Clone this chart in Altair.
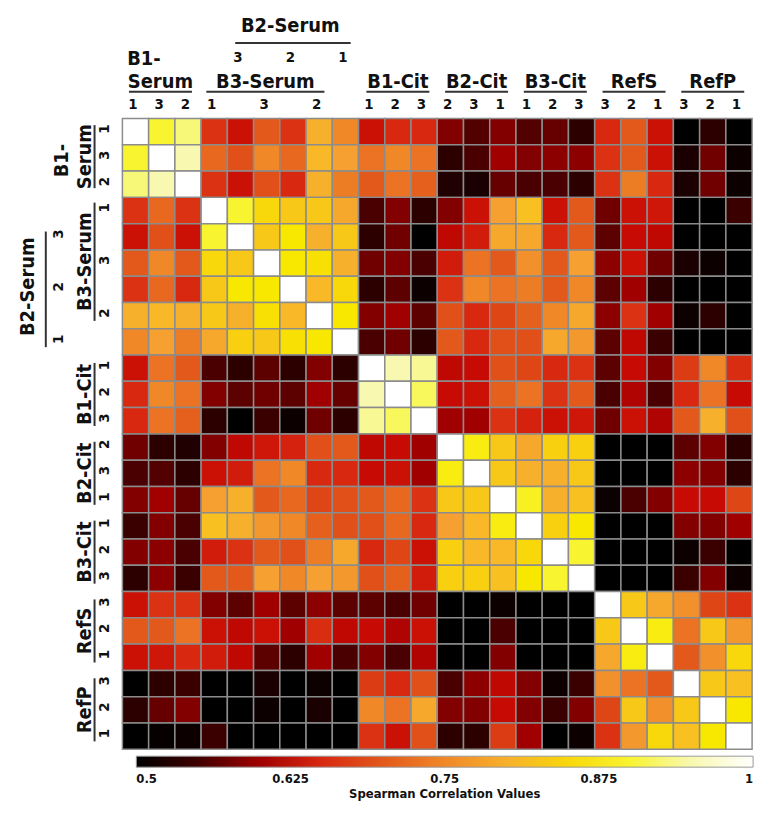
import altair as alt
import pandas as pd

FONT = "DejaVu Sans Condensed, Liberation Sans Narrow, Arial Narrow, sans-serif"

# sample order (rows == columns)
sample_ids = ["B1S-1", "B1S-3", "B1S-2", "B3S-1", "B2S-3", "B3S-3", "B2S-2", "B3S-2", "B2S-1",
              "B1C-1", "B1C-2", "B1C-3", "B2C-2", "B2C-3", "B2C-1", "B3C-1", "B3C-2", "B3C-3",
              "RefS-3", "RefS-2", "RefS-1", "RefP-3", "RefP-2", "RefP-1"]

b1s_1 = [1.00, 0.90, 0.93, 0.66, 0.63, 0.70, 0.66, 0.80, 0.75, 0.63, 0.65, 0.65, 0.585, 0.56, 0.585, 0.56, 0.57, 0.535, 0.65, 0.70, 0.63, 0.50, 0.535, 0.50]
b1s_3 = [0.90, 1.00, 0.95, 0.72, 0.69, 0.75, 0.72, 0.81, 0.78, 0.73, 0.75, 0.73, 0.535, 0.555, 0.60, 0.585, 0.59, 0.59, 0.66, 0.70, 0.63, 0.52, 0.575, 0.51]
b1s_2 = [0.93, 0.95, 1.00, 0.66, 0.63, 0.69, 0.65, 0.80, 0.74, 0.70, 0.73, 0.71, 0.525, 0.52, 0.57, 0.555, 0.555, 0.535, 0.66, 0.74, 0.65, 0.52, 0.575, 0.51]
b3s_1 = [0.66, 0.72, 0.66, 1.00, 0.90, 0.85, 0.83, 0.83, 0.79, 0.555, 0.585, 0.535, 0.585, 0.63, 0.78, 0.82, 0.63, 0.70, 0.575, 0.63, 0.635, 0.50, 0.50, 0.545]
b2s_3 = [0.63, 0.69, 0.63, 0.90, 1.00, 0.83, 0.87, 0.80, 0.83, 0.535, 0.575, 0.50, 0.62, 0.64, 0.79, 0.79, 0.65, 0.70, 0.565, 0.625, 0.62, 0.50, 0.50, 0.50]
b3s_3 = [0.70, 0.75, 0.70, 0.85, 0.83, 1.00, 0.87, 0.86, 0.80, 0.575, 0.585, 0.555, 0.64, 0.73, 0.70, 0.76, 0.70, 0.78, 0.59, 0.63, 0.575, 0.52, 0.51, 0.50]
b2s_2 = [0.66, 0.72, 0.65, 0.83, 0.87, 0.87, 1.00, 0.81, 0.85, 0.535, 0.565, 0.51, 0.66, 0.75, 0.73, 0.74, 0.70, 0.75, 0.565, 0.60, 0.535, 0.50, 0.50, 0.50]
b3s_2 = [0.80, 0.81, 0.80, 0.83, 0.80, 0.86, 0.81, 1.00, 0.87, 0.585, 0.60, 0.565, 0.69, 0.65, 0.68, 0.71, 0.75, 0.79, 0.59, 0.66, 0.60, 0.51, 0.535, 0.50]
b2s_1 = [0.75, 0.78, 0.74, 0.79, 0.84, 0.83, 0.86, 0.87, 1.00, 0.555, 0.575, 0.535, 0.70, 0.65, 0.69, 0.69, 0.79, 0.77, 0.565, 0.62, 0.545, 0.50, 0.50, 0.50]
b1c_1 = [0.63, 0.73, 0.70, 0.555, 0.535, 0.565, 0.535, 0.585, 0.535, 1.00, 0.95, 0.94, 0.62, 0.625, 0.69, 0.68, 0.65, 0.66, 0.565, 0.625, 0.585, 0.67, 0.75, 0.655]
b1c_2 = [0.65, 0.75, 0.73, 0.585, 0.565, 0.575, 0.565, 0.60, 0.57, 0.95, 1.00, 0.92, 0.625, 0.63, 0.71, 0.73, 0.66, 0.70, 0.555, 0.61, 0.555, 0.65, 0.73, 0.625]
b1c_3 = [0.65, 0.73, 0.71, 0.535, 0.50, 0.545, 0.51, 0.575, 0.535, 0.94, 0.92, 1.00, 0.60, 0.60, 0.66, 0.645, 0.63, 0.635, 0.575, 0.63, 0.61, 0.70, 0.80, 0.69]
b2c_2 = [0.575, 0.535, 0.525, 0.585, 0.62, 0.635, 0.645, 0.69, 0.70, 0.62, 0.625, 0.60, 1.00, 0.88, 0.83, 0.79, 0.84, 0.84, 0.50, 0.50, 0.50, 0.565, 0.585, 0.535]
b2c_3 = [0.555, 0.56, 0.535, 0.63, 0.64, 0.73, 0.75, 0.65, 0.65, 0.625, 0.63, 0.60, 0.88, 1.00, 0.83, 0.80, 0.80, 0.83, 0.50, 0.50, 0.50, 0.59, 0.585, 0.535]
b2c_1 = [0.585, 0.60, 0.57, 0.78, 0.80, 0.70, 0.72, 0.68, 0.69, 0.70, 0.72, 0.66, 0.83, 0.83, 1.00, 0.89, 0.80, 0.82, 0.51, 0.555, 0.585, 0.625, 0.625, 0.68]
b3c_1 = [0.545, 0.585, 0.555, 0.82, 0.80, 0.77, 0.75, 0.71, 0.69, 0.69, 0.72, 0.65, 0.78, 0.81, 0.88, 1.00, 0.84, 0.87, 0.50, 0.50, 0.50, 0.585, 0.585, 0.60]
b3c_2 = [0.585, 0.59, 0.555, 0.64, 0.66, 0.70, 0.69, 0.74, 0.79, 0.65, 0.68, 0.63, 0.84, 0.81, 0.81, 0.85, 1.00, 0.90, 0.50, 0.50, 0.50, 0.51, 0.545, 0.50]
b3c_3 = [0.535, 0.59, 0.545, 0.70, 0.70, 0.78, 0.75, 0.78, 0.77, 0.69, 0.71, 0.64, 0.84, 0.84, 0.82, 0.87, 0.90, 1.00, 0.50, 0.50, 0.50, 0.545, 0.585, 0.51]
refs_3 = [0.63, 0.66, 0.66, 0.585, 0.565, 0.60, 0.565, 0.59, 0.565, 0.565, 0.555, 0.575, 0.50, 0.50, 0.51, 0.50, 0.50, 0.50, 1.00, 0.83, 0.79, 0.76, 0.68, 0.66]
refs_2 = [0.70, 0.70, 0.73, 0.63, 0.62, 0.63, 0.60, 0.655, 0.62, 0.625, 0.61, 0.63, 0.50, 0.50, 0.555, 0.50, 0.50, 0.50, 0.83, 1.00, 0.88, 0.73, 0.83, 0.77]
refs_1 = [0.63, 0.635, 0.65, 0.64, 0.62, 0.565, 0.535, 0.60, 0.555, 0.585, 0.555, 0.61, 0.50, 0.50, 0.585, 0.50, 0.50, 0.50, 0.79, 0.88, 1.00, 0.70, 0.76, 0.85]
refp_3 = [0.50, 0.535, 0.545, 0.50, 0.50, 0.52, 0.50, 0.51, 0.50, 0.67, 0.65, 0.69, 0.555, 0.59, 0.62, 0.585, 0.51, 0.545, 0.76, 0.73, 0.70, 1.00, 0.83, 0.82]
refp_2 = [0.535, 0.57, 0.585, 0.50, 0.50, 0.51, 0.50, 0.52, 0.50, 0.75, 0.73, 0.79, 0.585, 0.585, 0.625, 0.585, 0.545, 0.585, 0.68, 0.83, 0.76, 0.83, 1.00, 0.87]
refp_1 = [0.50, 0.505, 0.51, 0.545, 0.50, 0.50, 0.50, 0.50, 0.50, 0.66, 0.63, 0.69, 0.535, 0.535, 0.67, 0.60, 0.50, 0.51, 0.66, 0.77, 0.85, 0.82, 0.87, 1.00]

matrix = [b1s_1, b1s_3, b1s_2, b3s_1, b2s_3, b3s_3, b2s_2, b3s_2, b2s_1,
          b1c_1, b1c_2, b1c_3, b2c_2, b2c_3, b2c_1, b3c_1, b3c_2, b3c_3,
          refs_3, refs_2, refs_1, refp_3, refp_2, refp_1]

# replicate numbers next to the grid (index -> label)
inner_idx = [0, 1, 2, 3, 5, 7, 9, 10, 11, 12, 13, 14, 15, 16, 17, 18, 19, 20, 21, 22, 23]
inner_lab = ["1", "3", "2", "1", "3", "2", "1", "2", "3", "2", "3", "1", "1", "2", "3", "3", "2", "1", "3", "2", "1"]
outer_idx = [4, 6, 8]
outer_lab = ["3", "2", "1"]

# group names (centre in cell units) and their underline spans
group_names = ["Serum", "B3-Serum", "B1-Cit", "B2-Cit", "B3-Cit", "RefS", "RefP"]
group_mid = [1.45, 5.45, 10.5, 13.5, 16.5, 19.5, 22.5]
group_from = [0.25, 3.2, 9.3, 12.3, 15.3, 18.3, 21.3]
group_to = [2.65, 7.7, 11.7, 14.7, 17.7, 20.7, 23.7]
outer_name = ["B2-Serum"]
outer_mid = [6.4]
outer_from = [4.3]
outer_to = [8.7]

legend_values = [0.5, 0.625, 0.75, 0.875, 1.0]
stop_vals = [0.50, 0.525, 0.55, 0.575, 0.60, 0.625, 0.65, 0.69, 0.72, 0.75, 0.78, 0.81, 0.84, 0.87, 0.91, 0.95, 1.00]
stop_cols = ["#000000", "#200000", "#400000", "#700000", "#a00000", "#c80a04", "#d82810", "#e05018",
             "#e86820", "#f08828", "#f5a030", "#f8b828", "#f8d010", "#f8e800", "#f8f840", "#f8f8b0", "#ffffff"]

N = len(sample_ids)
cells = pd.DataFrame([
    {"row": i, "col": j, "r2": i + 1, "c2": j + 1, "value": matrix[i][j],
     "rs": sample_ids[i], "cs": sample_ids[j]}
    for i in range(N) for j in range(N)
])

xs = alt.Scale(domain=[0, N], nice=False, zero=False)
ys = alt.Scale(domain=[0, N], nice=False, zero=False, reverse=True)

heat = alt.Chart(cells).mark_rect(stroke="#8c8c8c", strokeWidth=1.5).encode(
    x=alt.X("col:Q", scale=xs, axis=None),
    x2="c2:Q",
    y=alt.Y("row:Q", scale=ys, axis=None),
    y2="r2:Q",
    color=alt.Color(
        "value:Q",
        scale=alt.Scale(domain=stop_vals, range=stop_cols, clamp=True, interpolate="rgb"),
        legend=alt.Legend(
            orient="none", legendX=14, legendY=641, direction="horizontal",
            gradientLength=620, gradientThickness=11, values=legend_values,
            labelExpr="format(datum.value, '.4~g')",
            title="Spearman Correlation Values", titleOrient="bottom", titleAnchor="middle",
            titleLimit=0, labelLimit=0,
            labelFont=FONT, labelFontSize=13, labelFontWeight="bold", labelColor="#111",
            titleFont=FONT, titleFontSize=13, titleFontWeight="bold", titleColor="#111",
            gradientStrokeColor="#999999", gradientStrokeWidth=1,
            labelOffset=6, titlePadding=2, padding=0,
        ),
    ),
)


def top_text(df, py, size):
    return alt.Chart(df).mark_text(font=FONT, fontSize=size, fontWeight="bold", color="#111",
                                   baseline="middle", align="center").encode(
        x=alt.X("pos:Q", scale=xs, axis=None), y=alt.value(py), text="text:N")


def left_text(df, px, size):
    return alt.Chart(df).mark_text(font=FONT, fontSize=size, fontWeight="bold", color="#111",
                                   baseline="middle", align="center", angle=270).encode(
        y=alt.Y("pos:Q", scale=ys, axis=None), x=alt.value(px), text="text:N")


def top_line(df, py):
    return alt.Chart(df).mark_rule(color="#333333", strokeWidth=2).encode(
        x=alt.X("a:Q", scale=xs, axis=None), x2="b:Q", y=alt.value(py))


def left_line(df, px):
    return alt.Chart(df).mark_rule(color="#333333", strokeWidth=2).encode(
        y=alt.Y("a:Q", scale=ys, axis=None), y2="b:Q", x=alt.value(px))


inner_df = pd.DataFrame({"pos": [i + 0.4 for i in inner_idx], "text": inner_lab})
outer_df = pd.DataFrame({"pos": [i + 0.4 for i in outer_idx], "text": outer_lab})
group_df = pd.DataFrame({"pos": group_mid, "text": group_names})
gline_df = pd.DataFrame({"a": group_from, "b": group_to})
oname_df = pd.DataFrame({"pos": outer_mid, "text": outer_name})
oline_df = pd.DataFrame({"a": outer_from, "b": outer_to})
b1_top = pd.DataFrame({"pos": [0.82], "text": ["B1-"]})
b1_left = pd.DataFrame({"pos": [1.6], "text": ["B1-"]})

layers = [
    heat,
    top_text(inner_df, -15, 15), left_text(inner_df, -18, 15),
    top_text(group_df, -37, 20), left_text(group_df, -38, 20),
    top_line(gline_df, -27), left_line(gline_df, -28),
    top_text(b1_top, -60, 20), left_text(b1_left, -61, 20),
    top_text(outer_df, -62, 15), left_text(outer_df, -65, 15),
    top_line(oline_df, -76), left_line(oline_df, -77),
    top_text(oname_df, -93, 20), left_text(oname_df, -95, 20),
]

chart = alt.layer(*layers).properties(
    width=633, height=634,
    autosize=alt.AutoSizeParams(type="none"),
    padding={"left": 115, "top": 109, "right": 20, "bottom": 66},
).configure_view(stroke=None)

chart.save("out.html", embed_options={"renderer": "svg", "actions": False})
